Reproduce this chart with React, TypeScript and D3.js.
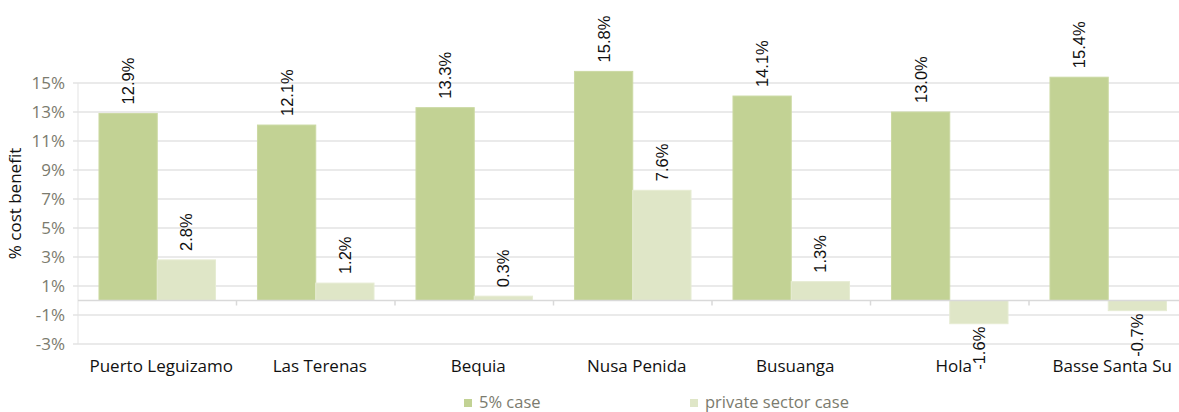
import React from "react";
import * as d3 from "d3";

const categories = ["Puerto Leguizamo", "Las Terenas", "Bequia", "Nusa Penida", "Busuanga", "Hola", "Basse Santa Su"];
const seriesNames = ["5% case", "private sector case"];
const fivePctCase = [12.9, 12.1, 13.3, 15.8, 14.1, 13.0, 15.4];
const privateSectorCase = [2.8, 1.2, 0.3, 7.6, 1.3, -1.6, -0.7];
const yTicks = [-3, -1, 1, 3, 5, 7, 9, 11, 13, 15];

const W = 1179;
const H = 412;
const colors = ["#c2d294", "#dfe6c7"];
const strokeColors = ["#cbd9a3", "#e6ecd3"];

export default function App() {
  const plotLeft = 78;
  const catStep = 158.5;
  const x0 = d3.scaleBand<string>().domain(categories).range([plotLeft, plotLeft + catStep * categories.length]).padding(0);
  const x1 = d3.scaleBand<string>().domain(seriesNames).range([0, x0.bandwidth()]).paddingInner(0).paddingOuter(0.36);
  const y = d3.scaleLinear().domain([-3, 15]).range([344, 83]);
  const series = [fivePctCase, privateSectorCase];
  const font = "'Open Sans', 'Noto Sans', sans-serif";
  const labelFont = "'Liberation Sans', Arial, sans-serif";
  const right = W;

  return (
    <svg width={W} height={H} style={{ position: "absolute", left: 0, top: 0 }} xmlns="http://www.w3.org/2000/svg">
      <rect width={W} height={H} fill="#ffffff" />
      {yTicks.map((t) => (
        <g key={t}>
          <line x1={plotLeft - 5} x2={right} y1={y(t)} y2={y(t)} stroke="#e3e3e3" strokeWidth={1.5} />
          <text x={65} y={y(t)} dy="0.35em" textAnchor="end" fontFamily={font} fontSize={17} fill="#7b7b6e">
            {t}%
          </text>
        </g>
      ))}
      <line x1={plotLeft} x2={plotLeft} y1={y(15)} y2={y(-3)} stroke="#e3e3e3" strokeWidth={1} />
      {categories.map((c, i) => (
        <g key={c}>
          {series.map((vals, s) => {
            const v = vals[i];
            const bx = (x0(c) as number) + (x1(seriesNames[s]) as number);
            const bw = x1.bandwidth();
            const top = Math.min(y(v), y(0));
            const h = Math.abs(y(v) - y(0));
            return (
              <rect key={s} x={bx} y={top} width={bw} height={h} fill={colors[s]} stroke={strokeColors[s]} strokeWidth={1} />
            );
          })}
        </g>
      ))}
      <line x1={plotLeft} x2={right} y1={y(0)} y2={y(0)} stroke="#d9d9d9" strokeWidth={1.5} />
      {categories.map((c, i) =>
        i > 0 ? (
          <line key={c} x1={x0(c) as number} x2={x0(c) as number} y1={y(0)} y2={y(0) + 5} stroke="#d9d9d9" strokeWidth={1.5} />
        ) : null
      )}
      {categories.map((c, i) =>
        series.map((vals, s) => {
          const v = vals[i];
          const cx = (x0(c) as number) + (x1(seriesNames[s]) as number) + x1.bandwidth() / 2;
          const pos = v >= 0;
          const ty = pos ? y(v) - 9 : y(v) + 3;
          return (
            <text
              key={c + s}
              transform={`translate(${cx},${ty}) rotate(-90)`}
              textAnchor={pos ? "start" : "end"}
              dominantBaseline="central"
              fontFamily={labelFont}
              fontSize={16.5}
              fill="#111"
            >
              {v.toFixed(1)}%
            </text>
          );
        })
      )}
      {categories.map((c) => (
        <text key={c} x={(x0(c) as number) + x0.bandwidth() / 2 + 4} y={372} textAnchor="middle" fontFamily={font} fontSize={17} fill="#111">
          {c}
        </text>
      ))}
      <text transform={`translate(21,${(y(15) + y(-3)) / 2 - 10}) rotate(-90)`} textAnchor="middle" fontFamily={font} fontSize={17} fill="#111">
        % cost benefit
      </text>
      {seriesNames.map((n, s) => {
        const lx = s === 0 ? 464 : 690;
        return (
          <g key={n}>
            <rect x={lx} y={399} width={8} height={8} fill={colors[s]} />
            <text x={lx + 15} y={407.5} fontFamily={font} fontSize={16.5} fill="#7b7b6e">
              {n}
            </text>
          </g>
        );
      })}
    </svg>
  );
}
